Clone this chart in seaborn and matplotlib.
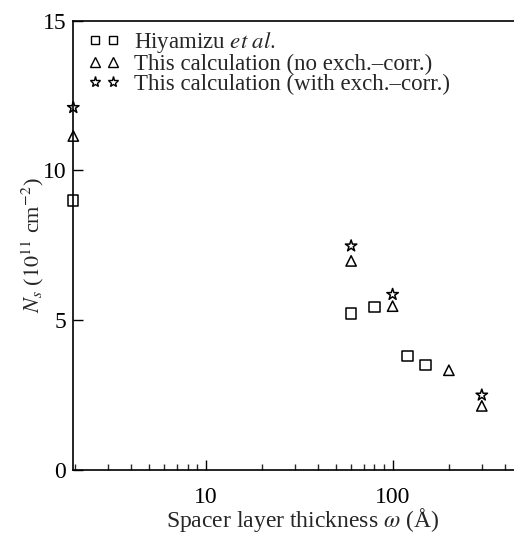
import matplotlib
matplotlib.use("Agg")
import matplotlib.pyplot as plt
import seaborn as sns
import pandas as pd
from matplotlib.lines import Line2D
from matplotlib.ticker import FixedLocator, FixedFormatter, LogLocator, NullFormatter

# Data
hiy_x = [1.96, 60, 80, 120, 150]
hiy_y = [9.0, 5.22, 5.44, 3.81, 3.5]
noxc_x = [1.96, 60, 100, 200, 300]
noxc_y = [11.15, 6.98, 5.47, 3.33, 2.14]
wxc_x = [1.96, 60, 100, 300]
wxc_y = [12.1, 7.48, 5.86, 2.5]
labels = ["Hiyamizu $\\mathit{et\\ al.}$",
          "This calculation (no exch.\u2013corr.)",
          "This calculation (with exch.\u2013corr.)"]
y_ticks = [0, 5, 10, 15]
x_ticks = [10, 100]
x_ticklabels = ["10", "100"]

sns.set_style("ticks")
plt.rcParams['font.family'] = ['Liberation Serif', 'DejaVu Serif']
plt.rcParams['mathtext.fontset'] = 'stix'

W, H = 514, 534
fig = plt.figure(figsize=(W / 100, H / 100), dpi=100)
ax = fig.add_axes([73.3 / W, 1 - 470 / H, (W - 73.3) / W, (470 - 20.7) / H])

df = pd.concat([
    pd.DataFrame({"x": hiy_x, "y": hiy_y, "s": labels[0]}),
    pd.DataFrame({"x": noxc_x, "y": noxc_y, "s": labels[1]}),
    pd.DataFrame({"x": wxc_x, "y": wxc_y, "s": labels[2]}),
])
markers = {labels[0]: "s", labels[1]: "^", labels[2]: "*"}
sizes = {labels[0]: 55, labels[1]: 55, labels[2]: 75}
for lab in labels:
    sub = df[df["s"] == lab]
    sns.scatterplot(data=sub, x="x", y="y", marker=markers[lab], s=sizes[lab],
                    facecolor="none", edgecolor="black", linewidth=1.1,
                    ax=ax, clip_on=False, zorder=3, legend=False)

ax.set_xscale("log")
ax.set_xlim(1.96, 446)
ax.set_ylim(0, 15)
ax.xaxis.set_major_locator(FixedLocator(x_ticks))
ax.xaxis.set_major_formatter(FixedFormatter(x_ticklabels))
ax.xaxis.set_minor_locator(LogLocator(base=10, subs=[2, 3, 4, 5, 6, 7, 8, 9]))
ax.xaxis.set_minor_formatter(NullFormatter())
ax.yaxis.set_major_locator(FixedLocator(y_ticks))

ax.spines['right'].set_visible(False)
for sp in ['left', 'bottom', 'top']:
    ax.spines[sp].set_linewidth(1.2)
    ax.spines[sp].set_color('black')
ax.tick_params(axis='both', which='major', direction='in', length=7, width=1.0,
               labelsize=17, colors='black')
ax.tick_params(axis='x', which='major', pad=12)
ax.tick_params(axis='y', which='major', pad=5)
ax.tick_params(axis='x', which='minor', direction='in', length=4, width=1.0)
ax.tick_params(top=False, right=False, which='both')

ax.set_xlabel("Spacer layer thickness $\\omega$ (\u00c5)", fontsize=17, labelpad=-1)
ax.xaxis.label.set_x((303 - 73.3) / (W - 73.3))
ax.set_ylabel("$N_s$ ($10^{11}$ cm$^{-2}$)", fontsize=16, labelpad=-2)

handles = [Line2D([], [], linestyle='none', marker=markers[l], markersize=ms,
                  markerfacecolor='none', markeredgecolor='black', markeredgewidth=1.0)
           for l, ms in zip(labels, [6, 6.5, 8])]
leg = ax.legend(handles, labels, loc="upper left", numpoints=2, frameon=False,
                fontsize=16.5, handletextpad=0.6, labelspacing=-0.05,
                borderpad=0, borderaxespad=0, handlelength=1.39,
                bbox_to_anchor=(88 / W, 1 - 30 / H), bbox_transform=fig.transFigure)

fig.savefig("out.png", dpi=100)
